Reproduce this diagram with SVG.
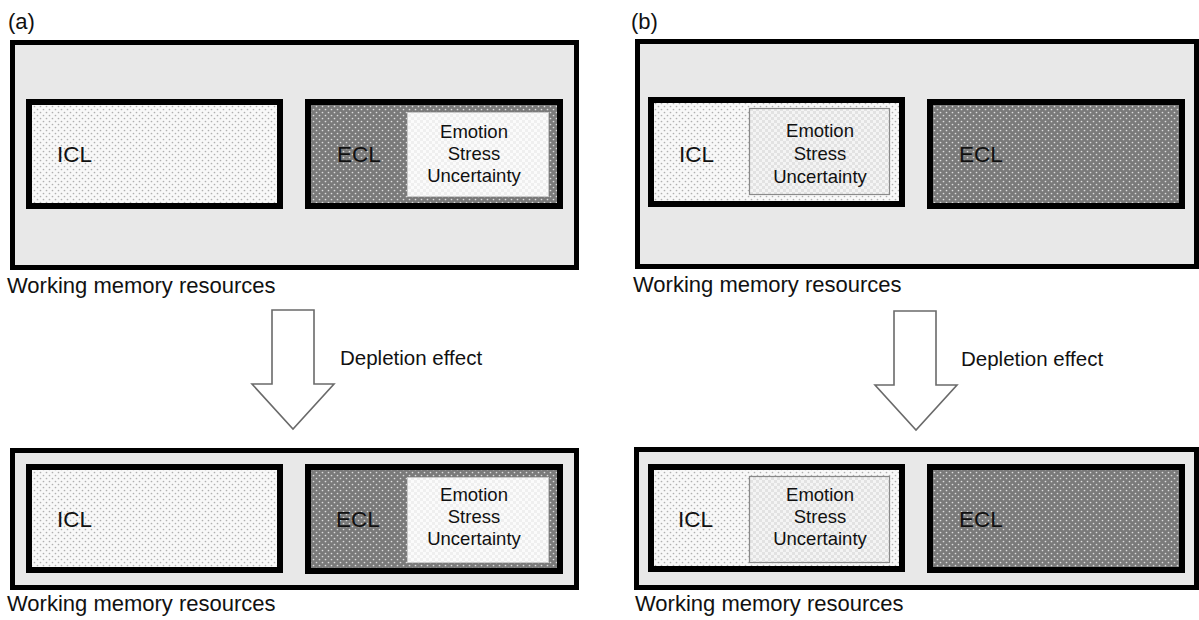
<svg xmlns="http://www.w3.org/2000/svg" width="1199" height="620" viewBox="0 0 1199 620">
  <defs>
    <pattern id="dotsLight" width="6" height="6" patternUnits="userSpaceOnUse">
      <rect width="6" height="6" fill="#f8f8f8"/>
      <circle cx="1.5" cy="1.5" r="0.85" fill="#b0b0b0"/>
      <circle cx="4.5" cy="4.5" r="0.85" fill="#b0b0b0"/>
    </pattern>
    <pattern id="dotsDark" width="6" height="6" patternUnits="userSpaceOnUse">
      <rect width="6" height="6" fill="#7a7a7a"/>
      <circle cx="1.5" cy="1.5" r="0.85" fill="#dcdcdc"/>
      <circle cx="4.5" cy="4.5" r="0.85" fill="#dcdcdc"/>
    </pattern>
    <pattern id="checkA" width="6" height="6" patternUnits="userSpaceOnUse">
      <rect width="6" height="6" fill="#fbfbfb"/>
      <rect width="3" height="3" fill="#efefef"/>
      <rect x="3" y="3" width="3" height="3" fill="#efefef"/>
    </pattern>
    <pattern id="checkB" width="6" height="6" patternUnits="userSpaceOnUse">
      <rect width="6" height="6" fill="#f4f4f4"/>
      <rect width="3" height="3" fill="#e2e2e2"/>
      <rect x="3" y="3" width="3" height="3" fill="#e2e2e2"/>
    </pattern>
  </defs>
  <style>
    text { font-family: "Liberation Sans", Arial, sans-serif; fill: #111; }
    .outer { fill: #e8e8e8; stroke: #000; stroke-width: 5; }
    .icl { fill: url(#dotsLight); stroke: #000; stroke-width: 6; }
    .ecl { fill: url(#dotsDark); stroke: #000; stroke-width: 6; }
    .emoA { fill: url(#checkA); stroke: #c8c8c8; stroke-width: 1; }
    .emoB { fill: url(#checkB); stroke: #8a8a8a; stroke-width: 1.2; }
    .lbl { font-size: 22.5px; }
    .emo { font-size: 18.5px; text-anchor: middle; }
    .cap { font-size: 22px; }
    .panel { font-size: 22px; }
    .dep { font-size: 20.5px; }
    .arrow { fill: #fff; stroke: #6a6a6a; stroke-width: 1.6; stroke-linejoin: miter; }
  </style>
  <rect width="1199" height="620" fill="#fff"/>

  <text class="panel" x="8" y="29">(a)</text>
  <text class="panel" x="631" y="29">(b)</text>

  <!-- Panel (a), top -->
  <g id="a-top-wm">
    <rect class="outer" x="12.5" y="42.5" width="564" height="225"/>
    <text class="cap" x="7" y="293">Working memory resources</text>
  </g>
  <g id="a-top-icl">
    <rect class="icl" x="29" y="102" width="251" height="104"/>
    <text class="lbl" x="57" y="162">ICL</text>
  </g>
  <g id="a-top-ecl">
    <rect class="ecl" x="308" y="102" width="252" height="104"/>
    <text class="lbl" x="337" y="162">ECL</text>
  </g>
  <g id="a-top-emotion">
    <rect class="emoA" x="407.5" y="112.5" width="141" height="84"/>
    <text class="emo" x="474" y="138">Emotion</text>
    <text class="emo" x="474" y="160">Stress</text>
    <text class="emo" x="474" y="182">Uncertainty</text>
  </g>

  <!-- Panel (a), bottom -->
  <g id="a-bottom-wm">
    <rect class="outer" x="12.5" y="450.5" width="564" height="137"/>
    <text class="cap" x="7" y="611">Working memory resources</text>
  </g>
  <g id="a-bottom-icl">
    <rect class="icl" x="29" y="467" width="251" height="103"/>
    <text class="lbl" x="57" y="527">ICL</text>
  </g>
  <g id="a-bottom-ecl">
    <rect class="ecl" x="308" y="467" width="252" height="104"/>
    <text class="lbl" x="336" y="527">ECL</text>
  </g>
  <g id="a-bottom-emotion">
    <rect class="emoA" x="407.5" y="477.5" width="141" height="85"/>
    <text class="emo" x="474" y="501">Emotion</text>
    <text class="emo" x="474" y="523">Stress</text>
    <text class="emo" x="474" y="545">Uncertainty</text>
  </g>

  <!-- Panel (b), top -->
  <g id="b-top-wm">
    <rect class="outer" x="637.5" y="41.5" width="559" height="225"/>
    <text class="cap" x="633" y="292">Working memory resources</text>
  </g>
  <g id="b-top-icl">
    <rect class="icl" x="651" y="100" width="251" height="104"/>
    <text class="lbl" x="679" y="162">ICL</text>
  </g>
  <g id="b-top-emotion">
    <rect class="emoB" x="749.5" y="108.5" width="140" height="86"/>
    <text class="emo" x="820" y="137">Emotion</text>
    <text class="emo" x="820" y="159.5">Stress</text>
    <text class="emo" x="820" y="182.5">Uncertainty</text>
  </g>
  <g id="b-top-ecl">
    <rect class="ecl" x="930" y="102" width="252" height="104"/>
    <text class="lbl" x="959" y="162">ECL</text>
  </g>

  <!-- Panel (b), bottom -->
  <g id="b-bottom-wm">
    <rect class="outer" x="636.5" y="449.5" width="560" height="138"/>
    <text class="cap" x="635" y="611">Working memory resources</text>
  </g>
  <g id="b-bottom-icl">
    <rect class="icl" x="651" y="467" width="251" height="102"/>
    <text class="lbl" x="678" y="527">ICL</text>
  </g>
  <g id="b-bottom-emotion">
    <rect class="emoB" x="749.5" y="476.5" width="140" height="86"/>
    <text class="emo" x="820" y="501">Emotion</text>
    <text class="emo" x="820" y="523">Stress</text>
    <text class="emo" x="820" y="545">Uncertainty</text>
  </g>
  <g id="b-bottom-ecl">
    <rect class="ecl" x="930" y="467" width="252" height="103"/>
    <text class="lbl" x="959" y="527">ECL</text>
  </g>

  <!-- Connectors: depletion arrows -->
  <g id="connectors">
    <g id="arrow-a">
      <polygon class="arrow" points="272,310 314,310 314,384 334,384 293,429 252,384 272,384"/>
      <text class="dep" x="340" y="365">Depletion effect</text>
    </g>
    <g id="arrow-b">
      <polygon class="arrow" points="894,311 936,311 936,385 957,385 916,430 875,385 894,385"/>
      <text class="dep" x="961" y="366">Depletion effect</text>
    </g>
  </g>
</svg>
